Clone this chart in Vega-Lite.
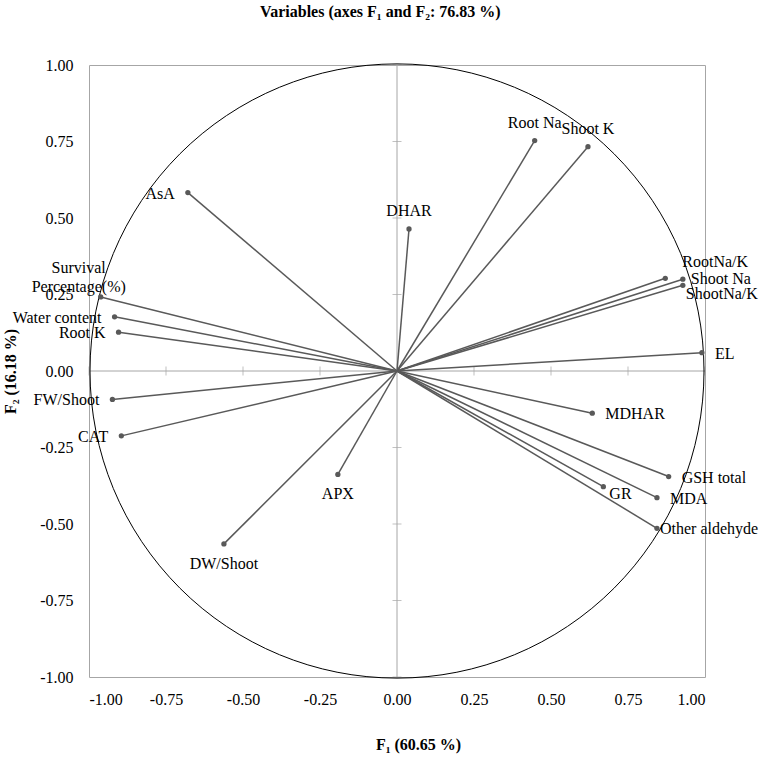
{
  "$schema": "https://vega.github.io/schema/vega-lite/v6.json",
  "width": 616,
  "height": 612,
  "padding": {"left": 2, "top": 4, "right": 0, "bottom": 5},
  "title": {
    "text": "Variables (axes F₁ and F₂: 76.83 %)",
    "font": "Liberation Serif, Times New Roman, serif",
    "fontSize": 16,
    "fontWeight": "bold",
    "color": "black",
    "offset": 37,
    "frame": "bounds",
    "anchor": "middle"
  },
  "config": {
    "view": {"stroke": "#a6a6a6", "strokeWidth": 1},
    "font": "Liberation Serif, Times New Roman, serif",
    "axis": {
      "grid": false,
      "domain": false,
      "ticks": false,
      "labelFont": "Liberation Serif, Times New Roman, serif",
      "labelFontSize": 16,
      "labelColor": "black",
      "titleFont": "Liberation Serif, Times New Roman, serif",
      "titleFontSize": 16,
      "titleFontWeight": "bold",
      "titleColor": "black"
    }
  },
  "datasets": {
    "vars": [
      {"name": "Root Na", "f1": 0.447, "f2": 0.753},
      {"name": "Shoot K", "f1": 0.620, "f2": 0.733},
      {"name": "DHAR", "f1": 0.039, "f2": 0.464},
      {"name": "RootNa/K", "f1": 0.871, "f2": 0.303},
      {"name": "Shoot Na", "f1": 0.928, "f2": 0.300},
      {"name": "ShootNa/K", "f1": 0.928, "f2": 0.280},
      {"name": "EL", "f1": 0.990, "f2": 0.060},
      {"name": "MDHAR", "f1": 0.634, "f2": -0.138},
      {"name": "GSH total", "f1": 0.882, "f2": -0.345},
      {"name": "GR", "f1": 0.670, "f2": -0.378},
      {"name": "MDA", "f1": 0.844, "f2": -0.414},
      {"name": "Other aldehyde", "f1": 0.844, "f2": -0.514},
      {"name": "AsA", "f1": -0.679, "f2": 0.583},
      {"name": "Survival Percentage(%)", "f1": -0.962, "f2": 0.242},
      {"name": "Water content", "f1": -0.917, "f2": 0.177},
      {"name": "Root K", "f1": -0.904, "f2": 0.127},
      {"name": "FW/Shoot", "f1": -0.924, "f2": -0.093},
      {"name": "CAT", "f1": -0.895, "f2": -0.212},
      {"name": "APX", "f1": -0.192, "f2": -0.338},
      {"name": "DW/Shoot", "f1": -0.562, "f2": -0.565}
    ],
    "ticks": [
      {"v": -1}, {"v": -0.75}, {"v": -0.5}, {"v": -0.25}, {"v": 0.25}, {"v": 0.5}, {"v": 0.75}, {"v": 1}
    ],
    "origin": [{"o": 0}]
  },
  "layer": [
    {
      "data": {"name": "origin"},
      "mark": {"type": "rule", "color": "#a6a6a6", "strokeWidth": 1},
      "encoding": {
        "x": {
          "field": "o", "type": "quantitative",
          "scale": {"domain": [-1, 1], "nice": false, "zero": false},
          "axis": {"values": [-1, -0.75, -0.5, -0.25, 0, 0.25, 0.5, 0.75, 1], "format": ".2f", "labelExpr": "replace(datum.label, '−', '-')", "title": "F₁ (60.65 %)", "labelPadding": 14, "titlePadding": 29, "titleX": 329}
        }
      }
    },
    {
      "data": {"name": "origin"},
      "mark": {"type": "rule", "color": "#a6a6a6", "strokeWidth": 1},
      "encoding": {
        "y": {
          "field": "o", "type": "quantitative",
          "scale": {"domain": [-1, 1], "nice": false, "zero": false},
          "axis": {"values": [-1, -0.75, -0.5, -0.25, 0, 0.25, 0.5, 0.75, 1], "format": ".2f", "labelExpr": "replace(datum.label, '−', '-')", "title": "F₂ (16.18 %)", "labelPadding": 16, "titlePadding": 21}
        }
      }
    },
    {
      "data": {"name": "ticks"},
      "mark": {"type": "tick", "orient": "vertical", "color": "#a6a6a6", "size": 9, "thickness": 1},
      "encoding": {
        "x": {"field": "v", "type": "quantitative"},
        "y": {"datum": 0, "type": "quantitative"}
      }
    },
    {
      "data": {"name": "ticks"},
      "mark": {"type": "tick", "orient": "horizontal", "color": "#a6a6a6", "size": 9, "thickness": 1},
      "encoding": {
        "y": {"field": "v", "type": "quantitative"},
        "x": {"datum": 0, "type": "quantitative"}
      }
    },
    {
      "data": {"name": "origin"},
      "mark": {"type": "point", "shape": "circle", "filled": false, "size": 376996, "stroke": "black", "strokeWidth": 1, "opacity": 1},
      "encoding": {
        "x": {"field": "o", "type": "quantitative"},
        "y": {"field": "o", "type": "quantitative"}
      }
    },
    {
      "data": {"name": "vars"},
      "mark": {"type": "rule", "color": "#595959", "strokeWidth": 1.5},
      "encoding": {
        "x": {"field": "f1", "type": "quantitative"},
        "y": {"field": "f2", "type": "quantitative"},
        "x2": {"datum": 0},
        "y2": {"datum": 0}
      }
    },
    {
      "data": {"name": "vars"},
      "mark": {"type": "point", "shape": "circle", "filled": true, "size": 28, "color": "#595959", "opacity": 1},
      "encoding": {
        "x": {"field": "f1", "type": "quantitative"},
        "y": {"field": "f2", "type": "quantitative"}
      }
    },
    {
      "data": {"name": "vars"},
      "transform": [{"filter": {"field": "name", "oneOf": ["Root Na", "Shoot K", "DHAR"]}}],
      "mark": {"type": "text", "fontSize": 16, "color": "black", "align": "center", "baseline": "middle", "dy": -18},
      "encoding": {
        "x": {"field": "f1", "type": "quantitative"},
        "y": {"field": "f2", "type": "quantitative"},
        "text": {"field": "name"}
      }
    },
    {
      "data": {"name": "vars"},
      "transform": [{"filter": {"field": "name", "oneOf": ["APX", "DW/Shoot"]}}],
      "mark": {"type": "text", "fontSize": 16, "color": "black", "align": "center", "baseline": "middle", "dy": 20},
      "encoding": {
        "x": {"field": "f1", "type": "quantitative"},
        "y": {"field": "f2", "type": "quantitative"},
        "text": {"field": "name"}
      }
    },
    {
      "data": {"name": "vars"},
      "transform": [{"filter": {"field": "name", "oneOf": ["EL", "MDHAR", "GSH total", "MDA"]}}],
      "mark": {"type": "text", "fontSize": 16, "color": "black", "align": "left", "baseline": "middle", "dx": 13, "dy": 1},
      "encoding": {
        "x": {"field": "f1", "type": "quantitative"},
        "y": {"field": "f2", "type": "quantitative"},
        "text": {"field": "name"}
      }
    },
    {
      "data": {"name": "vars"},
      "transform": [{"filter": {"field": "name", "oneOf": ["RootNa/K"]}}],
      "mark": {"type": "text", "fontSize": 16, "color": "black", "align": "left", "baseline": "middle", "dx": 17, "dy": -16},
      "encoding": {
        "x": {"field": "f1", "type": "quantitative"},
        "y": {"field": "f2", "type": "quantitative"},
        "text": {"field": "name"}
      }
    },
    {
      "data": {"name": "vars"},
      "transform": [{"filter": {"field": "name", "oneOf": ["Shoot Na"]}}],
      "mark": {"type": "text", "fontSize": 16, "color": "black", "align": "left", "baseline": "middle", "dx": 8, "dy": 0},
      "encoding": {
        "x": {"field": "f1", "type": "quantitative"},
        "y": {"field": "f2", "type": "quantitative"},
        "text": {"field": "name"}
      }
    },
    {
      "data": {"name": "vars"},
      "transform": [{"filter": {"field": "name", "oneOf": ["ShootNa/K"]}}],
      "mark": {"type": "text", "fontSize": 16, "color": "black", "align": "left", "baseline": "middle", "dx": 3, "dy": 9},
      "encoding": {
        "x": {"field": "f1", "type": "quantitative"},
        "y": {"field": "f2", "type": "quantitative"},
        "text": {"field": "name"}
      }
    },
    {
      "data": {"name": "vars"},
      "transform": [{"filter": {"field": "name", "oneOf": ["GR"]}}],
      "mark": {"type": "text", "fontSize": 16, "color": "black", "align": "left", "baseline": "middle", "dx": 6, "dy": 7},
      "encoding": {
        "x": {"field": "f1", "type": "quantitative"},
        "y": {"field": "f2", "type": "quantitative"},
        "text": {"field": "name"}
      }
    },
    {
      "data": {"name": "vars"},
      "transform": [{"filter": {"field": "name", "oneOf": ["Other aldehyde"]}}],
      "mark": {"type": "text", "fontSize": 16, "color": "black", "align": "left", "baseline": "middle", "dx": 3, "dy": 1},
      "encoding": {
        "x": {"field": "f1", "type": "quantitative"},
        "y": {"field": "f2", "type": "quantitative"},
        "text": {"field": "name"}
      }
    },
    {
      "data": {"name": "vars"},
      "transform": [{"filter": {"field": "name", "oneOf": ["AsA", "Water content", "Root K", "FW/Shoot", "CAT"]}}],
      "mark": {"type": "text", "fontSize": 16, "color": "black", "align": "right", "baseline": "middle", "dx": -13, "dy": 1},
      "encoding": {
        "x": {"field": "f1", "type": "quantitative"},
        "y": {"field": "f2", "type": "quantitative"},
        "text": {"field": "name"}
      }
    },
    {
      "data": {"name": "vars"},
      "transform": [{"filter": {"field": "name", "oneOf": ["Survival Percentage(%)"]}}],
      "mark": {"type": "text", "fontSize": 16, "color": "black", "align": "center", "baseline": "middle", "dx": -22, "dy": -29, "lineBreak": " ", "lineHeight": 19},
      "encoding": {
        "x": {"field": "f1", "type": "quantitative"},
        "y": {"field": "f2", "type": "quantitative"},
        "text": {"field": "name"}
      }
    }
  ]
}
